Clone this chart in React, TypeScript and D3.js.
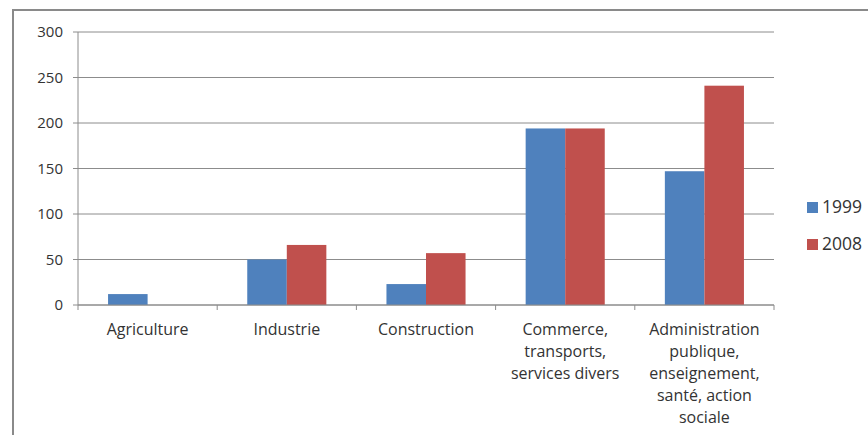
import React from "react";
import * as d3 from "d3";

const categories = [
  "Agriculture",
  "Industrie",
  "Construction",
  "Commerce, transports, services divers",
  "Administration publique, enseignement, santé, action sociale",
];
const categoryLines = [
  ["Agriculture"],
  ["Industrie"],
  ["Construction"],
  ["Commerce,", "transports,", "services divers"],
  ["Administration", "publique,", "enseignement,", "santé, action", "sociale"],
];
const seriesNames = ["1999", "2008"];
const values1999 = [12, 50, 23, 194, 147];
const values2008 = [0, 66, 57, 194, 241];
const seriesColors = ["#4F81BD", "#C0504D"];
const yTicks = [0, 50, 100, 150, 200, 250, 300];

const W = 868;
const H = 435;
const left = 78;
const right = 774;
const top = 32;
const bottom = 305;
const font = "'Open Sans', sans-serif";
const gridColor = "#8c8c8c";

export default function App() {
  const x0 = d3.scaleBand<string>().domain(categories).range([left, right]).padding(0);
  const x1 = d3
    .scaleBand<string>()
    .domain(seriesNames)
    .range([0, x0.bandwidth()])
    .paddingInner(0)
    .paddingOuter(0.76);
  const y = d3.scaleLinear().domain([0, 300]).range([bottom, top]);
  const series = [values1999, values2008];

  return (
    <svg
      width={W}
      height={H}
      style={{ position: "absolute", left: 0, top: 0, background: "#fff" }}
      fontFamily={font}
    >
      <rect x={0} y={0} width={W} height={H} fill="#fff" />
      <path d={`M13,${H} L13,10 L${W},10`} fill="none" stroke="#8a8a8a" strokeWidth={2} />
      {/* gridlines */}
      {yTicks.map((t) => (
        <g key={t}>
          <line x1={left - 5} x2={right} y1={y(t)} y2={y(t)} stroke={gridColor} strokeWidth={1} />
          <text x={63} y={y(t) + 5} textAnchor="end" fontSize={15} fill="#333">
            {t}
          </text>
        </g>
      ))}
      {/* y axis */}
      <line x1={left} x2={left} y1={top} y2={bottom} stroke={gridColor} strokeWidth={1} />
      {/* x ticks */}
      {[...categories.map((c) => x0(c) as number), right].map((xv, i) => (
        <line key={i} x1={xv} x2={xv} y1={bottom} y2={bottom + 5} stroke={gridColor} strokeWidth={1} />
      ))}
      {/* bars */}
      {series.map((vals, si) =>
        categories.map((c, ci) => {
          const v = vals[ci];
          if (!v) return null;
          return (
            <rect
              key={`${si}-${ci}`}
              x={(x0(c) as number) + (x1(seriesNames[si]) as number)}
              y={y(v)}
              width={x1.bandwidth()}
              height={bottom - y(v)}
              fill={seriesColors[si]}
            />
          );
        })
      )}
      {/* x axis line on top of bars */}
      <line x1={left} x2={right} y1={bottom} y2={bottom} stroke={gridColor} strokeWidth={1} />
      {/* category labels */}
      {categories.map((c, ci) => (
        <text
          key={c}
          x={(x0(c) as number) + x0.bandwidth() / 2}
          textAnchor="middle"
          fontSize={16}
          fill="#333"
        >
          {categoryLines[ci].map((line, li) => (
            <tspan key={li} x={(x0(c) as number) + x0.bandwidth() / 2} y={335 + li * 22}>
              {line}
            </tspan>
          ))}
        </text>
      ))}
      {/* legend */}
      {seriesNames.map((s, i) => (
        <g key={s} transform={`translate(807, ${202 + i * 37})`}>
          <rect x={0} y={0} width={11} height={11} fill={seriesColors[i]} />
          <text x={15} y={11} fontSize={17.5} fill="#333">
            {s}
          </text>
        </g>
      ))}
    </svg>
  );
}
